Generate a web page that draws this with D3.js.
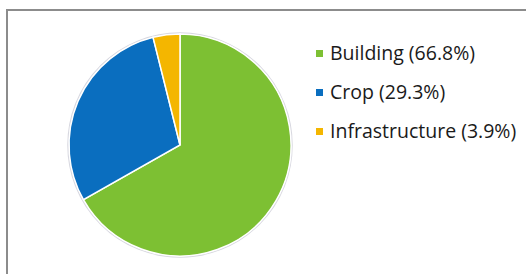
<!DOCTYPE html>
<html>
<head>
<meta charset="utf-8">
<script src="https://cdn.jsdelivr.net/npm/d3@7"></script>
<style>
  body { margin: 0; background: #fff; }
  svg { display: block; }
</style>
</head>
<body>
<div id="chart"></div>
<script>
  const categories = ["Building", "Crop", "Infrastructure"];
  const shares = [66.8, 29.3, 3.9];
  const colors = ["#7dc033", "#0a6ebf", "#f4b600"];

  const width = 526, height = 274;
  const svg = d3.select("#chart").append("svg")
    .attr("width", width)
    .attr("height", height);

  // frame round the chart area
  svg.append("path")
    .attr("d", "M7,274 V10 H526")
    .attr("fill", "none")
    .attr("stroke", "#8c8c8c")
    .attr("stroke-width", 2);

  const data = categories.map((c, i) => ({ name: c, value: shares[i], color: colors[i] }));

  const cx = 180, cy = 145, r = 111;
  const pie = d3.pie().sort(null).value(d => d.value);
  const arc = d3.arc().innerRadius(0).outerRadius(r);

  const g = svg.append("g").attr("transform", "translate(" + cx + "," + cy + ")");

  // soft shadow ring
  g.append("circle")
    .attr("r", r + 1)
    .attr("fill", "none")
    .attr("stroke", "#d8d8e0")
    .attr("stroke-width", 1.5);

  g.selectAll("path.slice")
    .data(pie(data))
    .enter()
    .append("path")
    .attr("class", "slice")
    .attr("d", arc)
    .attr("fill", d => d.data.color)
    .attr("stroke", "#fff")
    .attr("stroke-width", 1.5);

  // legend
  const legend = svg.append("g").attr("transform", "translate(316,50)");
  const item = legend.selectAll("g")
    .data(data)
    .enter()
    .append("g")
    .attr("transform", (d, i) => "translate(0," + i * 39 + ")");

  item.append("rect")
    .attr("width", 7)
    .attr("height", 7)
    .attr("fill", d => d.color);

  item.append("text")
    .attr("x", 14)
    .attr("y", 10)
    .attr("font-family", "Open Sans, sans-serif")
    .attr("font-size", 19.5)
    .attr("fill", "#1a1a1a")
    .text(d => d.name + " (" + d.value.toFixed(1) + "%)");
</script>
</body>
</html>
